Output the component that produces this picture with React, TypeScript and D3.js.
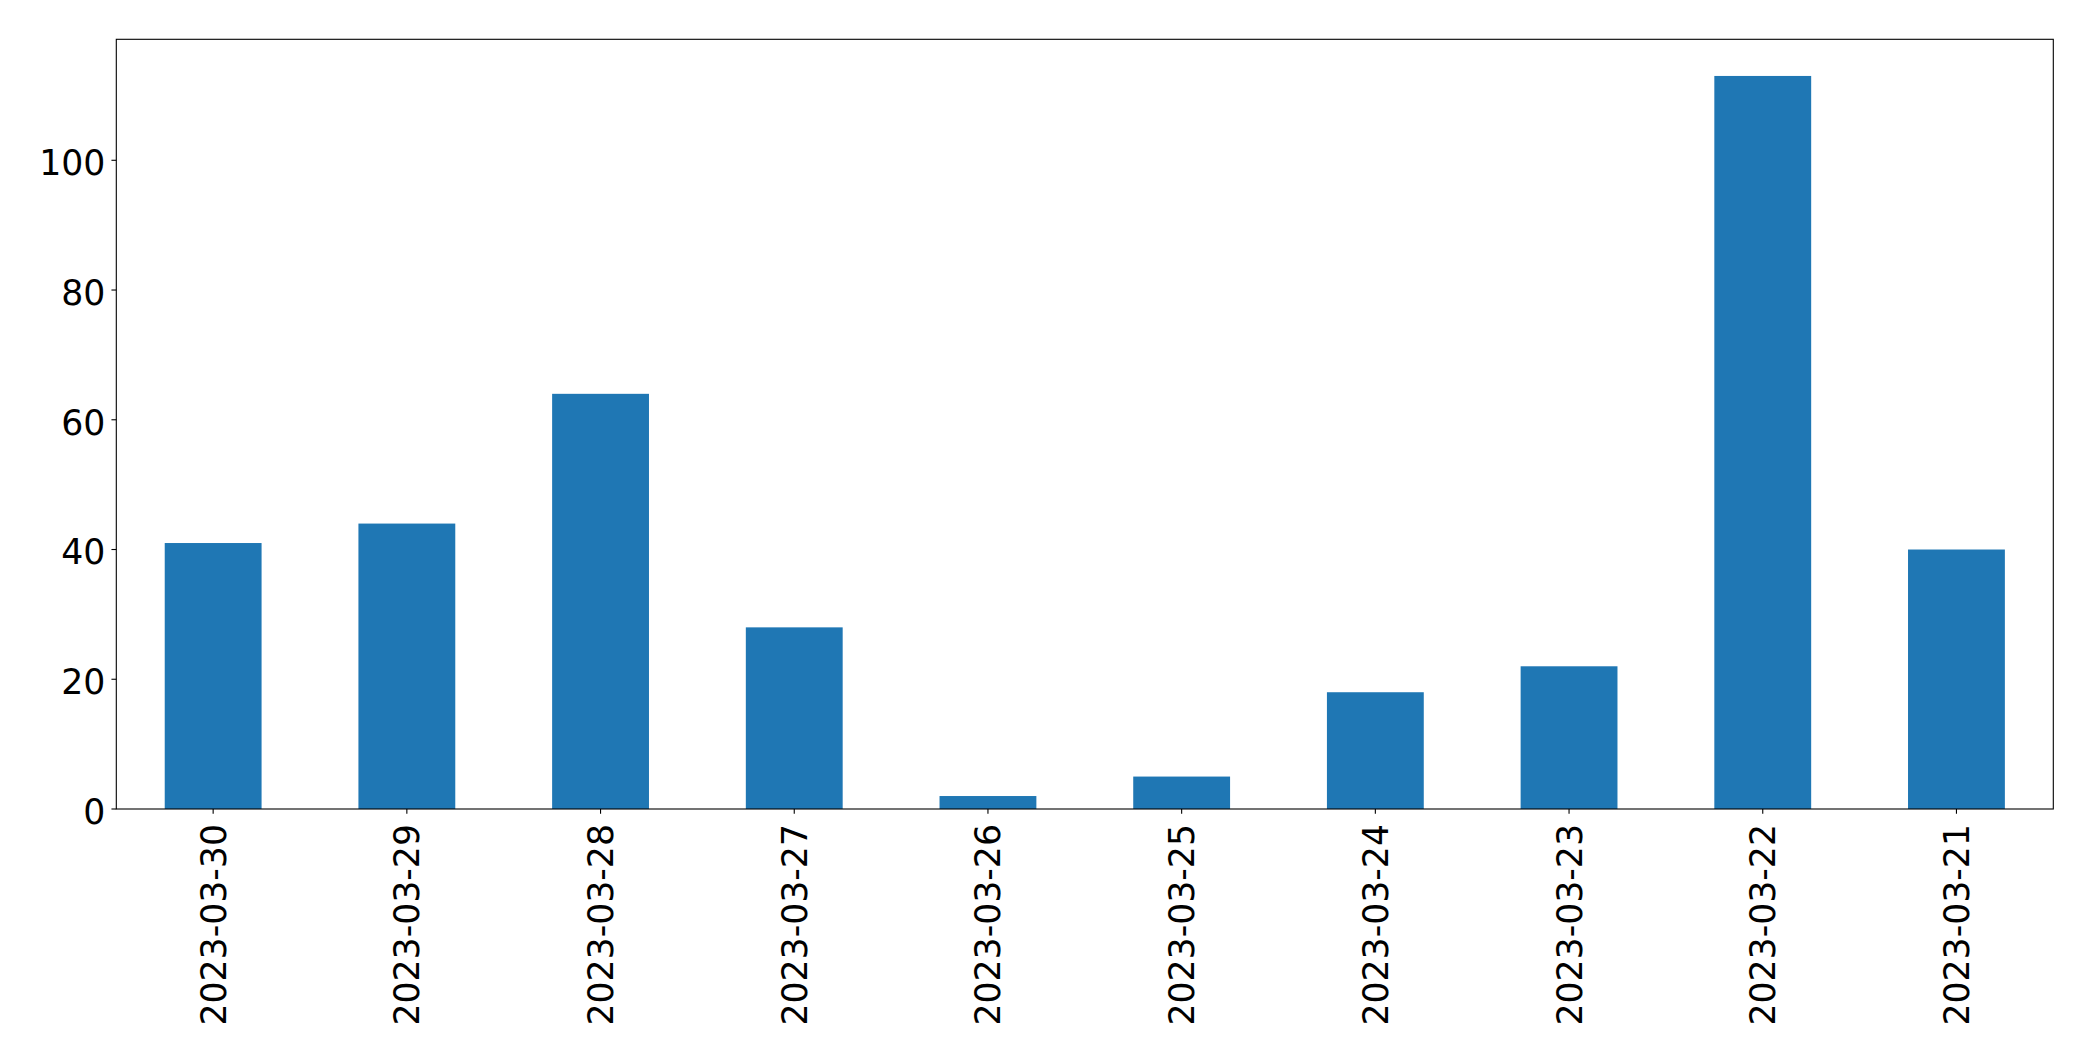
import React from "react";
import * as d3 from "d3";

const categories = [
  "2023-03-30", "2023-03-29", "2023-03-28", "2023-03-27", "2023-03-26",
  "2023-03-25", "2023-03-24", "2023-03-23", "2023-03-22", "2023-03-21",
];
const values = [41, 44, 64, 28, 2, 5, 18, 22, 113, 40];
const yTicks = [0, 20, 40, 60, 80, 100];

const W = 2093;
const H = 1061;
const margin = { left: 116.3, top: 39.3, right: W - 2053.3, bottom: H - 809 };

export default function App() {
  const x0 = margin.left;
  const x1 = W - margin.right;
  const y0 = H - margin.bottom;
  const y1 = margin.top;
  const n = categories.length;
  const x = d3.scaleLinear().domain([-0.5, n - 0.5]).range([x0, x1]);
  const yMax = d3.max(values)! * 1.05;
  const y = d3.scaleLinear().domain([0, yMax]).range([y0, y1]);
  const fs = 34.7;
  const tickLen = 4.86;
  const font = "'DejaVu Sans', sans-serif";
  return (
    <svg
      width={W}
      height={H}
      style={{ position: "absolute", left: 0, top: 0, background: "#fff" }}
      fontFamily={font}
    >
      <rect x={0} y={0} width={W} height={H} fill="#fff" />
      {values.map((v, i) => (
        <rect
          key={i}
          x={x(i - 0.25)}
          width={x(i + 0.25) - x(i - 0.25)}
          y={y(v)}
          height={y(0) - y(v)}
          fill="#1f77b4"
        />
      ))}
      <rect
        x={x0}
        y={y1}
        width={x1 - x0}
        height={y0 - y1}
        fill="none"
        stroke="#000"
        strokeWidth={1.1}
      />
      {yTicks.map((t) => (
        <g key={t}>
          <line x1={x0 - tickLen} x2={x0} y1={y(t)} y2={y(t)} stroke="#000" strokeWidth={1.1} />
          <text
            x={x0 - tickLen - 6}
            y={y(t)}
            dy="0.43em"
            textAnchor="end"
            fontSize={fs}
            fill="#000"
          >
            {t}
          </text>
        </g>
      ))}
      {categories.map((c, i) => (
        <g key={c}>
          <line x1={x(i)} x2={x(i)} y1={y0} y2={y0 + tickLen} stroke="#000" strokeWidth={1.1} />
          <text
            transform={`translate(${x(i)},${y0 + 15}) rotate(-90)`}
            dy="0.36em"
            textAnchor="end"
            fontSize={fs}
            fill="#000"
          >
            {c}
          </text>
        </g>
      ))}
    </svg>
  );
}
